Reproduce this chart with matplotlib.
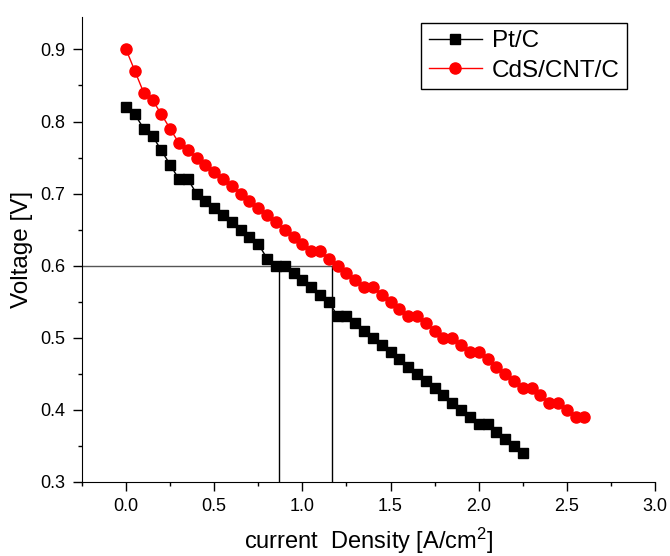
import matplotlib
matplotlib.use('Agg')
import matplotlib.pyplot as plt
import numpy as np

plt.rcParams['font.family'] = ['Liberation Sans', 'DejaVu Sans']
plt.rcParams['mathtext.fontset'] = 'custom'
plt.rcParams['mathtext.rm'] = 'Liberation Sans'
plt.rcParams['mathtext.it'] = 'Liberation Sans'

# Pt/C
x_pt = np.round(np.arange(0, 2.2501, 0.05), 2)
v_pt = [0.82, 0.81, 0.79, 0.78, 0.76, 0.74, 0.72, 0.72, 0.70, 0.69,
        0.68, 0.67, 0.66, 0.65, 0.64, 0.63, 0.61, 0.60, 0.60, 0.59,
        0.58, 0.57, 0.56, 0.55, 0.53, 0.53, 0.52, 0.51, 0.50, 0.49,
        0.48, 0.47, 0.46, 0.45, 0.44, 0.43, 0.42, 0.41, 0.40, 0.39,
        0.38, 0.38, 0.37, 0.36, 0.35, 0.34]

# CdS/CNT/C
x_cds = np.round(np.arange(0, 2.6001, 0.05), 2)
v_cds = [0.90, 0.87, 0.84, 0.83, 0.81, 0.79, 0.77, 0.76, 0.75, 0.74,
         0.73, 0.72, 0.71, 0.70, 0.69, 0.68, 0.67, 0.66, 0.65, 0.64,
         0.63, 0.62, 0.62, 0.61, 0.60, 0.59, 0.58, 0.57, 0.57, 0.56,
         0.55, 0.54, 0.53, 0.53, 0.52, 0.51, 0.50, 0.50, 0.49, 0.48,
         0.48, 0.47, 0.46, 0.45, 0.44, 0.43, 0.43, 0.42, 0.41, 0.41,
         0.40, 0.39, 0.39]

# guide lines at 0.6 V
v_ref = 0.6
x_ref = [0.87, 1.17]

fig = plt.figure(figsize=(6.7, 5.56), dpi=100)
ax = fig.add_axes([0.1224, 0.1331, 0.8552, 0.8363])

ax.plot(x_pt, v_pt, color='black', lw=1, marker='s', ms=7, label='Pt/C', zorder=3)
ax.plot(x_cds, v_cds, color='red', lw=1, marker='o', ms=8, label='CdS/CNT/C', zorder=3)

ax.plot([-0.25, x_ref[1]], [v_ref, v_ref], color='#555555', lw=1, zorder=2)
for xr in x_ref:
    ax.plot([xr, xr], [0.3, v_ref], color='black', lw=1, zorder=2)

ax.set_xlim(-0.25, 3.0)
ax.set_ylim(0.3, 0.945)
ax.set_xticks([0.0, 0.5, 1.0, 1.5, 2.0, 2.5, 3.0])
ax.set_xticks(np.arange(-0.25, 3.01, 0.25), minor=True)
ax.set_yticks([0.3, 0.4, 0.5, 0.6, 0.7, 0.8, 0.9])
ax.set_yticks(np.arange(0.35, 0.95, 0.1), minor=True)
ax.xaxis.set_major_formatter(plt.FormatStrFormatter('%.1f'))
ax.yaxis.set_major_formatter(plt.FormatStrFormatter('%.1f'))
ax.tick_params(which='major', direction='out', length=6.5, width=1, labelsize=13)
ax.tick_params(axis='y', which='major', pad=5.5)
ax.tick_params(axis='x', which='major', pad=5)
ax.tick_params(which='minor', direction='out', length=3, width=1)
ax.spines['top'].set_visible(False)
ax.spines['right'].set_visible(False)

ax.set_xlabel('current  Density [A/cm$^2$]', fontsize=17, labelpad=8)
ax.set_ylabel('Voltage [V]', fontsize=17.5, labelpad=5)

leg = ax.legend(loc='upper right', bbox_to_anchor=(627 / 670, 1 - 23 / 556),
                bbox_transform=fig.transFigure, fontsize=17.5, fancybox=False,
                edgecolor='black', framealpha=1, handlelength=2.2,
                handletextpad=0.4, borderaxespad=0, borderpad=0.3,
                labelspacing=0.3)
leg.get_frame().set_linewidth(1)

plt.savefig('out.png', dpi=100)
